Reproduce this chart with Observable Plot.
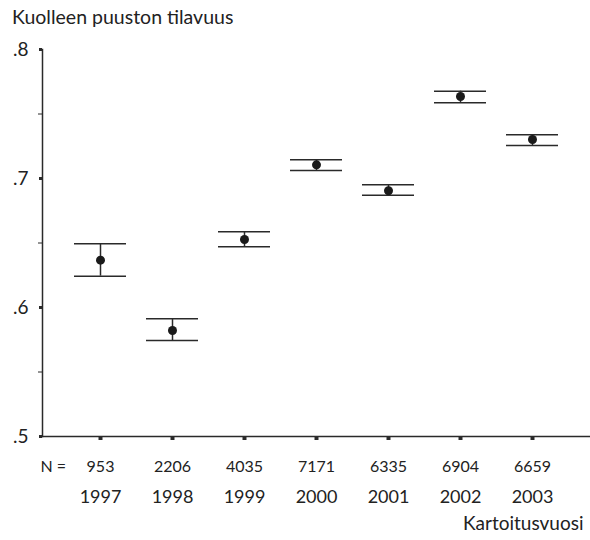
<!DOCTYPE html>
<html>
<head>
<meta charset="utf-8">
<script src="https://cdn.jsdelivr.net/npm/d3@7"></script>
<script src="https://cdn.jsdelivr.net/npm/@observablehq/plot@0.6"></script>
<style>
  body { margin: 0; background: white; }
  #title { font-family: Lato, "Open Sans", sans-serif; font-size: 19.5px; color: #222; height: 36px; box-sizing: border-box; padding: 6px 0 0 12px; line-height: 22px; }
</style>
</head>
<body>
<div id="title">Kuolleen puuston tilavuus</div>
<div id="chart"></div>
<script>
const years = ["1997", "1998", "1999", "2000", "2001", "2002", "2003"];
const nValues = [953, 2206, 4035, 7171, 6335, 6904, 6659];
const means = [0.6367, 0.5822, 0.6527, 0.7106, 0.6905, 0.7636, 0.7302];
const lower = [0.6243, 0.5744, 0.6471, 0.7062, 0.6871, 0.7587, 0.7256];
const upper = [0.6494, 0.5912, 0.6587, 0.7145, 0.6951, 0.7677, 0.7339];
const majorTicks = [0.5, 0.6, 0.7, 0.8];
const minorTicks = [0.55, 0.65, 0.75];
const xLabel = "Kartoitusvuosi";
const nPrefix = "N =";

const data = years.map((y, i) => ({year: y, n: nValues[i], mean: means[i], lo: lower[i], hi: upper[i]}));
const ink = "#2a2a2a";

const chart = Plot.plot({
  width: 590,
  height: 504,
  marginLeft: 42,
  marginRight: 0,
  marginTop: 13,
  marginBottom: 104,
  style: {fontFamily: "Lato, 'Open Sans', sans-serif", fontSize: "17px", color: "#222", background: "white"},
  x: {type: "band", domain: years, paddingInner: 0.2775, paddingOuter: 0.402, axis: null, label: null},
  y: {domain: [0.5, 0.8], axis: null, label: null},
  marks: [
    Plot.ruleY([0.5], {stroke: ink, strokeWidth: 1.5}),
    Plot.frame({anchor: "left", stroke: ink, strokeWidth: 1.5}),
    Plot.axisY({ticks: majorTicks, tickSize: 3, strokeWidth: 3, stroke: ink, tickPadding: 11, tickFormat: d => d.toFixed(1).slice(1), fontSize: 19, label: null}),
    Plot.axisY({ticks: minorTicks, tickSize: 4, strokeWidth: 1, stroke: ink, tickFormat: () => "", label: null}),
    Plot.axisX({tickSize: 4, strokeWidth: 4, stroke: ink, tickFormat: () => "", label: null}),
    Plot.ruleX(data, {x: "year", y1: "lo", y2: "hi", stroke: ink, strokeWidth: 1.5}),
    Plot.tickY(data, {x: "year", y: "hi", stroke: ink, strokeWidth: 1.5}),
    Plot.tickY(data, {x: "year", y: "lo", stroke: ink, strokeWidth: 1.5}),
    Plot.dot(data, {x: "year", y: "mean", r: 4.5, fill: "#1a1a1a", stroke: "none"}),
    Plot.text(data, {x: "year", text: d => String(d.n), frameAnchor: "bottom", dy: 35, fontSize: 16, fill: "#222"}),
    Plot.text(data, {x: "year", text: "year", frameAnchor: "bottom", dy: 66, fontSize: 18, fill: "#222"}),
    Plot.text([nPrefix], {frameAnchor: "bottom-left", dx: -2, dy: 35, textAnchor: "start", fontSize: 16, fill: "#222"}),
    Plot.text([xLabel], {frameAnchor: "bottom-right", dx: -7, dy: 93, textAnchor: "end", fontSize: 19, fill: "#222"})
  ]
});
document.getElementById("chart").appendChild(chart);
</script>
</body>
</html>
